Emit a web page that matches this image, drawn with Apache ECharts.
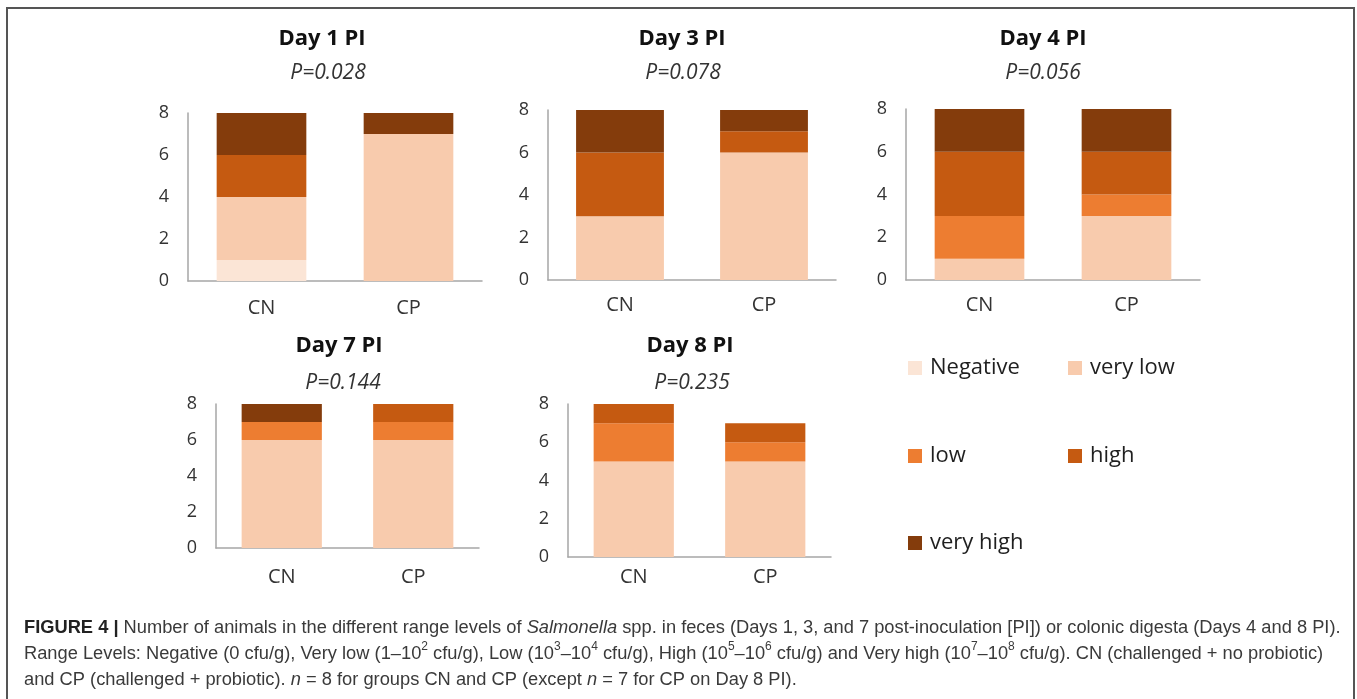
<!DOCTYPE html>
<html>
<head>
<meta charset="utf-8">
<script src="https://cdn.jsdelivr.net/npm/echarts@6/dist/echarts.min.js"></script>
<style>
html,body{margin:0;padding:0;background:#fff;}
#chart{width:1357px;height:699px;}
</style>
</head>
<body>
<div id="chart"></div>
<script>
// ---- data ----
const categories = ['CN', 'CP'];
const days = ['Day 1 PI', 'Day 3 PI', 'Day 4 PI', 'Day 7 PI', 'Day 8 PI'];
const pValues = ['P=0.028', 'P=0.078', 'P=0.056', 'P=0.144', 'P=0.235'];
const levels = ['Negative', 'very low', 'low', 'high', 'very high'];
// values per day: [CN, CP]
const negative = [[1, 0], [0, 0], [0, 0], [0, 0], [0, 0]];
const veryLow  = [[3, 7], [3, 6], [1, 3], [6, 6], [5, 5]];
const low      = [[0, 0], [0, 0], [2, 1], [1, 1], [2, 1]];
const high     = [[2, 0], [3, 1], [3, 2], [0, 1], [1, 1]];
const veryHigh = [[2, 1], [2, 1], [2, 2], [1, 0], [0, 0]];
const levelValues = [negative, veryLow, low, high, veryHigh];
const yMin = 0, yMax = 8, yInterval = 2;

// ---- layout / style ----
const colors = ['#FBE5D6', '#F8CBAD', '#ED7D31', '#C55A11', '#843C0C'];
const grids = [
  {left: 188, top: 113, width: 294, height: 168},
  {left: 548, top: 110, width: 288, height: 170},
  {left: 906, top: 109, width: 294, height: 171},
  {left: 216, top: 404, width: 263, height: 144},
  {left: 568, top: 404, width: 263, height: 153}
];
const xLabelMargin = [17, 15, 15, 19, 10];
const titlePos = [[322, 39], [682, 39], [1043, 39], [339, 346], [690, 346]];
const pPos = [[328, 73], [683, 73], [1043, 73], [343, 383], [692, 383]];
const legendPos = [[908, 367], [1068, 367], [908, 455], [1068, 455], [908, 542]];

const chartFont = 'Open Sans';
const axisColor = '#A6A6A6';
const labelColor = '#333333';

const xAxes = [], yAxes = [], series = [], graphics = [], legends = [];
grids.forEach((g, d) => {
  xAxes.push({
    type: 'category', gridIndex: d, data: categories,
    axisLine: {show: true, lineStyle: {color: axisColor, width: 1.5}},
    axisTick: {show: false},
    axisLabel: {margin: xLabelMargin[d], fontFamily: chartFont, fontSize: 20, color: labelColor}
  });
  yAxes.push({
    type: 'value', gridIndex: d, min: yMin, max: yMax, interval: yInterval,
    axisLine: {show: true, lineStyle: {color: axisColor, width: 1.5}},
    axisTick: {show: false},
    splitLine: {show: false},
    axisLabel: {margin: 19, fontFamily: chartFont, fontSize: 18, color: labelColor}
  });
  levels.forEach((lv, l) => {
    series.push({
      type: 'bar', name: lv, xAxisIndex: d, yAxisIndex: d, stack: 'day' + d,
      barWidth: '61%',
      data: levelValues[l][d],
      itemStyle: {color: colors[l]},
      emphasis: {disabled: true},
      silent: true
    });
  });
  graphics.push({
    type: 'text', x: titlePos[d][0], y: titlePos[d][1],
    style: {text: days[d], fontFamily: chartFont, fontSize: 22, fontWeight: 'bold', fill: '#111',
            textAlign: 'center', textVerticalAlign: 'middle'}
  });
  graphics.push({
    type: 'text', x: pPos[d][0], y: pPos[d][1],
    style: {text: pValues[d], fontFamily: chartFont, fontSize: 21, fontStyle: 'italic', fill: labelColor,
            textAlign: 'center', textVerticalAlign: 'middle'}
  });
});

levels.forEach((lv, l) => {
  legends.push({
    data: [lv], left: legendPos[l][0], top: legendPos[l][1] - 10,
    itemWidth: 14, itemHeight: 14, icon: 'rect', padding: 0, selectedMode: false,
    textStyle: {fontFamily: chartFont, fontSize: 22, color: '#1f1f1f', padding: [0, 0, 0, 3]}
  });
});

// border
graphics.push({
  type: 'rect', shape: {x: 7, y: 8, width: 1347, height: 720},
  style: {fill: 'none', stroke: '#555', lineWidth: 2}
});
// caption
const capFont = 'Liberation Sans';
const captionText =
  '{b|FIGURE 4 |} Number of animals in the different range levels of {i|Salmonella} spp. in feces (Days 1, 3, and 7 post-inoculation [PI]) or colonic digesta (Days 4 and 8 PI).\n' +
  'Range Levels: Negative (0 cfu/g), Very low (1\u201310{s|2} cfu/g), Low (10{s|3}\u201310{s|4} cfu/g), High (10{s|5}\u201310{s|6} cfu/g) and Very high (10{s|7}\u201310{s|8} cfu/g). CN (challenged + no probiotic)\n' +
  'and CP (challenged + probiotic). {i|n} = 8 for groups CN and CP (except {i|n} = 7 for CP on Day 8 PI).';
graphics.push({
  type: 'text', x: 24, y: 615,
  style: {
    text: captionText, fontFamily: capFont, fontSize: 18.3, fill: '#3a3a3a', lineHeight: 26,
    textAlign: 'left', textVerticalAlign: 'top',
    rich: {
      b: {fontFamily: capFont, fontSize: 18.3, fontWeight: 'bold', fill: '#222', lineHeight: 26},
      i: {fontFamily: capFont, fontSize: 18.3, fontStyle: 'italic', fill: '#3a3a3a', lineHeight: 26},
      s: {fontFamily: capFont, fontSize: 12, fill: '#3a3a3a', lineHeight: 14, verticalAlign: 'top'}
    }
  }
});

const chart = echarts.init(document.getElementById('chart'), null, {renderer: 'canvas'});
chart.setOption({
  animation: false,
  backgroundColor: '#fff',
  grid: grids.map(g => Object.assign({containLabel: false}, g)),
  xAxis: xAxes,
  yAxis: yAxes,
  legend: legends,
  series: series,
  graphic: graphics
});
</script>
</body>
</html>
